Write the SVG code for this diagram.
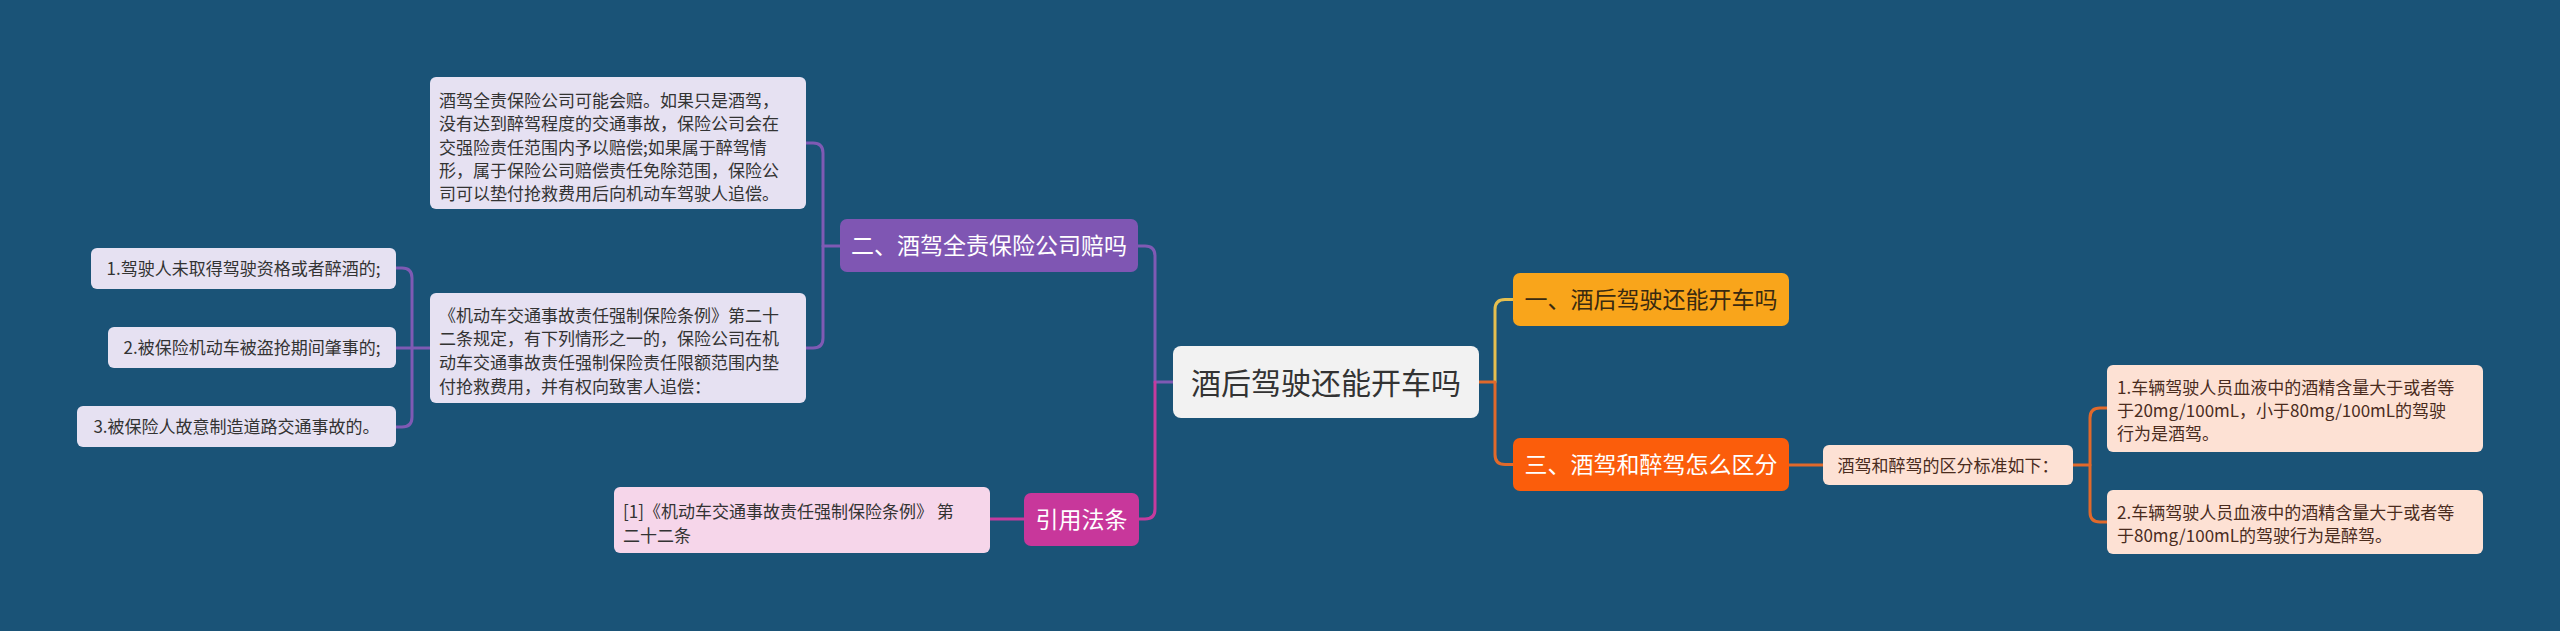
<svg xmlns="http://www.w3.org/2000/svg" width="2560" height="631" viewBox="0 0 2560 631">
<style>
text{font-family:"Noto Sans CJK SC","Liberation Sans",sans-serif;}
.c{fill:none;stroke-width:3;stroke-linecap:round;stroke-linejoin:round}
.pu{stroke:#7f5ab4}.pk{stroke:#c53b9e}.ye{stroke:#e5bf4f}.or{stroke:#e0692b}
.s{font-size:17px;fill:#333}
.sp{font-size:17px;fill:#4a2c1e}
.m{font-size:23px}
</style>
<rect width="2560" height="631" fill="#1a5377"/>
<g id="connectors">
<path class="c pu" d="M1173,382 H1155 V256 Q1155,246 1145,246 H1138"/>
<path class="c pk" d="M1155,382 V509 Q1155,519 1145,519 H1139"/>
<path class="c pu" d="M840,246 H823"/>
<path class="c pu" d="M806,143 H813 Q823,143 823,153 V338 Q823,348 813,348 H806"/>
<path class="c pu" d="M430,348 H396"/>
<path class="c pu" d="M396,268 H402 Q412,268 412,278 V417 Q412,427 402,427 H396"/>
<path class="c pk" d="M1024,519 H990"/>
<path class="c ye" d="M1495,382 V309.5 Q1495,299.5 1505,299.5 H1513"/>
<path class="c or" d="M1479,382 H1495 V454.5 Q1495,464.5 1505,464.5 H1513"/>
<path class="c or" d="M1789,465 H1823"/>
<path class="c or" d="M2073,465 H2090"/>
<path class="c or" d="M2107,408 H2100 Q2090,408 2090,418 V512 Q2090,522 2100,522 H2107"/>
</g>
<g id="center">
<rect x="1173" y="346" width="306" height="72" rx="8" fill="#f2f2f2"/>
<text x="1326" y="393.5" font-size="30" fill="#333" text-anchor="middle">酒后驾驶还能开车吗</text>
</g>
<g id="n1">
<rect x="1513" y="273" width="276" height="53" rx="7" fill="#f9a51b"/>
<text class="m" x="1651" y="308" fill="#3a2a10" text-anchor="middle">一、酒后驾驶还能开车吗</text>
</g>
<g id="n3">
<rect x="1513" y="438" width="276" height="53" rx="7" fill="#fb5d0b"/>
<text class="m" x="1651" y="473" fill="#fff" text-anchor="middle">三、酒驾和醉驾怎么区分</text>
</g>
<g id="n3a">
<rect x="1823" y="445" width="250" height="40" rx="6" fill="#fde1d4"/>
<text class="sp" x="1948" y="471.5" text-anchor="middle">酒驾和醉驾的区分标准如下：</text>
</g>
<g id="n3a1">
<rect x="2107" y="365" width="376" height="87" rx="6" fill="#fde1d4"/>
<text class="sp" x="2117" y="393.5">1.车辆驾驶人员血液中的酒精含量大于或者等</text>
<text class="sp" x="2117" y="416.5">于20mg/100mL，小于80mg/100mL的驾驶</text>
<text class="sp" x="2117" y="439.5">行为是酒驾。</text>
</g>
<g id="n3a2">
<rect x="2107" y="490" width="376" height="64" rx="6" fill="#fde1d4"/>
<text class="sp" x="2117" y="518.5">2.车辆驾驶人员血液中的酒精含量大于或者等</text>
<text class="sp" x="2117" y="541.5">于80mg/100mL的驾驶行为是醉驾。</text>
</g>
<g id="n2">
<rect x="840" y="219" width="298" height="53" rx="7" fill="#7f56b3"/>
<text class="m" x="989" y="254" fill="#fff" text-anchor="middle">二、酒驾全责保险公司赔吗</text>
</g>
<g id="n2a">
<rect x="430" y="77" width="376" height="132" rx="6" fill="#e6e1f2"/>
<text class="s" x="439" y="107">酒驾全责保险公司可能会赔。如果只是酒驾，</text>
<text class="s" x="439" y="130.3">没有达到醉驾程度的交通事故，保险公司会在</text>
<text class="s" x="439" y="153.6">交强险责任范围内予以赔偿;如果属于醉驾情</text>
<text class="s" x="439" y="176.9">形，属于保险公司赔偿责任免除范围，保险公</text>
<text class="s" x="439" y="200.2">司可以垫付抢救费用后向机动车驾驶人追偿。</text>
</g>
<g id="n2b">
<rect x="430" y="293" width="376" height="110" rx="6" fill="#e6e1f2"/>
<text class="s" x="439" y="321.5">《机动车交通事故责任强制保险条例》第二十</text>
<text class="s" x="439" y="345.2">二条规定，有下列情形之一的，保险公司在机</text>
<text class="s" x="439" y="368.9">动车交通事故责任强制保险责任限额范围内垫</text>
<text class="s" x="439" y="392.6">付抢救费用，并有权向致害人追偿：</text>
</g>
<g id="n2b1">
<rect x="91" y="248" width="305" height="41" rx="6" fill="#e6e1f2"/>
<text class="s" x="243.5" y="275" text-anchor="middle">1.驾驶人未取得驾驶资格或者醉酒的;</text>
</g>
<g id="n2b2">
<rect x="108" y="327" width="288" height="41" rx="6" fill="#e6e1f2"/>
<text class="s" x="252" y="354" text-anchor="middle">2.被保险机动车被盗抢期间肇事的;</text>
</g>
<g id="n2b3">
<rect x="77" y="406" width="319" height="41" rx="6" fill="#e6e1f2"/>
<text class="s" x="236.5" y="433" text-anchor="middle">3.被保险人故意制造道路交通事故的。</text>
</g>
<g id="n4">
<rect x="1024" y="493" width="115" height="53" rx="7" fill="#c8379b"/>
<text class="m" x="1081.5" y="528" fill="#fff" text-anchor="middle">引用法条</text>
</g>
<g id="n4a">
<rect x="614" y="487" width="376" height="66" rx="6" fill="#f6d6ea"/>
<text class="s" x="623" y="517.5">[1]《机动车交通事故责任强制保险条例》 第</text>
<text class="s" x="623" y="541.5">二十二条</text>
</g>
</svg>
